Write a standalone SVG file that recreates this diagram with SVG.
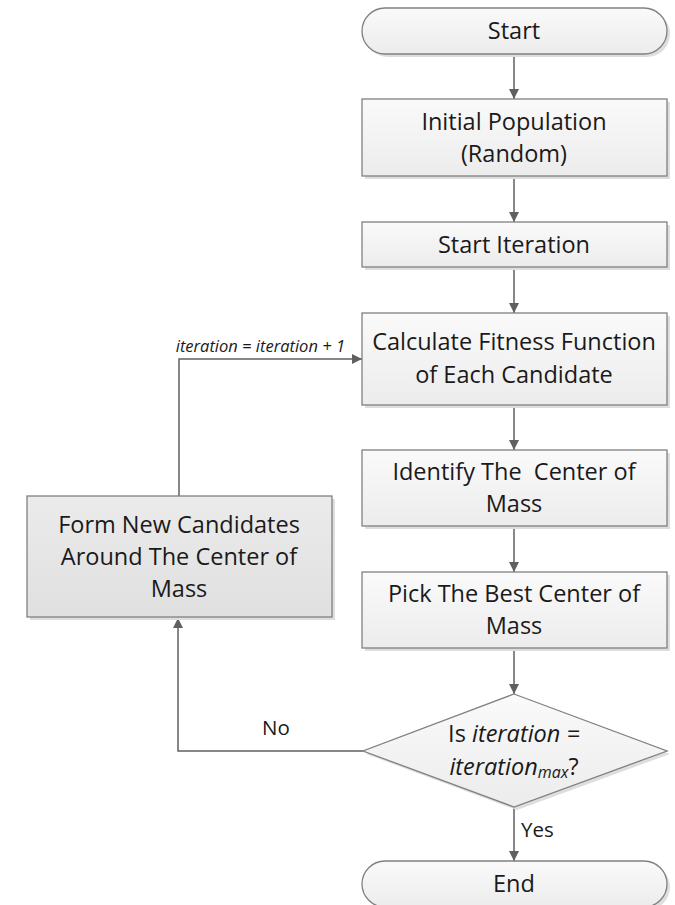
<svg xmlns="http://www.w3.org/2000/svg" width="675" height="905" viewBox="0 0 675 905">
<defs>
<linearGradient id="g" x1="0" y1="0" x2="0" y2="1">
<stop offset="0" stop-color="#fafafa"/>
<stop offset="1" stop-color="#ececec"/>
</linearGradient>
<linearGradient id="g2" x1="0" y1="0" x2="0" y2="1">
<stop offset="0" stop-color="#ebebeb"/>
<stop offset="1" stop-color="#e0e0e0"/>
</linearGradient>
<marker id="ah" viewBox="0 0 10 10" refX="10" refY="5" markerWidth="10" markerHeight="10" markerUnits="userSpaceOnUse" orient="auto">
<path d="M0,0 L10,5 L0,10 z" fill="#606060"/>
</marker>
</defs>
<style>
.n{fill:url(#g);stroke:#808080;stroke-width:1.3}
.n2{fill:url(#g2);stroke:#808080;stroke-width:1.3}
.sh{fill:#dedede;stroke:none}
.t{font-family:"Open Sans","Liberation Sans",sans-serif;font-size:23.5px;fill:#1a1a1a;text-anchor:middle}
.l{font-family:"Open Sans","Liberation Sans",sans-serif;font-size:20.5px;fill:#1a1a1a}
.c{fill:none;stroke:#606060;stroke-width:1.5}
.it{font-style:italic}
</style>
<rect width="675" height="905" fill="#ffffff"/>
<g id="connectors">
<line class="c" x1="514" y1="54" x2="514" y2="99" marker-end="url(#ah)"/>
<line class="c" x1="514" y1="176" x2="514" y2="222" marker-end="url(#ah)"/>
<line class="c" x1="514" y1="267" x2="514" y2="313" marker-end="url(#ah)"/>
<line class="c" x1="514" y1="405" x2="514" y2="450" marker-end="url(#ah)"/>
<line class="c" x1="514" y1="526" x2="514" y2="572" marker-end="url(#ah)"/>
<line class="c" x1="514" y1="648" x2="514" y2="694" marker-end="url(#ah)"/>
<line class="c" x1="514" y1="807" x2="514" y2="861" marker-end="url(#ah)"/>
<polyline class="c" points="363,751 178,751 178,618" marker-end="url(#ah)"/>
<polyline class="c" points="179,496 179,359 362,359" marker-end="url(#ah)"/>
<text class="it" x="345" y="352" text-anchor="end" font-family="Open Sans, Liberation Sans, sans-serif" font-size="16.5" fill="#1a1a1a">iteration = iteration + 1</text>
<text class="l" x="262" y="735">No</text>
<text class="l" x="521" y="837">Yes</text>
</g>
<g id="start">
<rect class="sh" x="365" y="11" width="305" height="46" rx="23"/>
<rect class="n" x="362" y="8" width="305" height="46" rx="23"/>
<text class="t" x="514" y="39">Start</text>
</g>
<g id="initial">
<rect class="sh" x="365" y="102" width="305" height="77"/>
<rect class="n" x="362" y="99" width="305" height="77"/>
<text class="t" x="514" y="130">Initial Population</text>
<text class="t" x="514" y="162">(Random)</text>
</g>
<g id="startiter">
<rect class="sh" x="365" y="225" width="305" height="45"/>
<rect class="n" x="362" y="222" width="305" height="45"/>
<text class="t" x="514" y="253">Start Iteration</text>
</g>
<g id="calc">
<rect class="sh" x="365" y="316" width="305" height="92"/>
<rect class="n" x="362" y="313" width="305" height="92"/>
<text class="t" x="514" y="350">Calculate Fitness Function</text>
<text class="t" x="514" y="383">of Each Candidate</text>
</g>
<g id="identify">
<rect class="sh" x="365" y="453" width="305" height="76"/>
<rect class="n" x="362" y="450" width="305" height="76"/>
<text class="t" x="514" y="480" xml:space="preserve">Identify The  Center of</text>
<text class="t" x="514" y="512">Mass</text>
</g>
<g id="pick">
<rect class="sh" x="365" y="575" width="305" height="76"/>
<rect class="n" x="362" y="572" width="305" height="76"/>
<text class="t" x="514" y="602">Pick The Best Center of</text>
<text class="t" x="514" y="634">Mass</text>
</g>
<g id="form">
<rect class="sh" x="30" y="499" width="305" height="121"/>
<rect class="n2" x="27" y="496" width="305" height="121"/>
<text class="t" x="179" y="533">Form New Candidates</text>
<text class="t" x="179" y="565">Around The Center of</text>
<text class="t" x="179" y="597">Mass</text>
</g>
<g id="decision">
<polygon class="sh" points="517,697 670,754 517,810 366,754"/>
<polygon class="n" points="514,694 667,751 514,807 363,751"/>
<text class="t" x="514" y="742">Is <tspan class="it">iteration =</tspan></text>
<text class="t" x="514" y="775"><tspan class="it">iteration</tspan><tspan class="it" font-size="16" dy="3">max</tspan><tspan dy="-3">?</tspan></text>
</g>
<g id="end">
<rect class="sh" x="365" y="864" width="305" height="46" rx="23"/>
<rect class="n" x="362" y="861" width="305" height="46" rx="23"/>
<text class="t" x="514" y="892">End</text>
</g>
</svg>
